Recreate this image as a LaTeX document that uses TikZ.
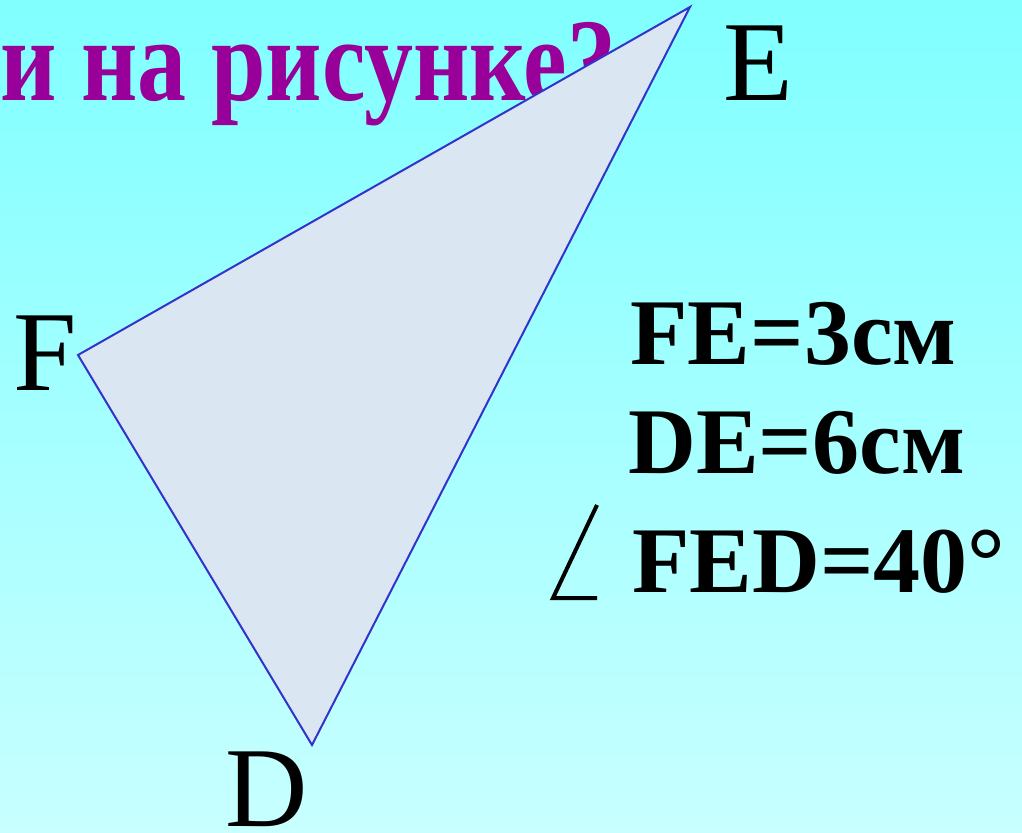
\documentclass[tikz,border=0pt]{standalone}
\usepackage{fontspec}
\setmainfont{Liberation Serif}
\usetikzlibrary{positioning}
\definecolor{bgtop}{RGB}{128,255,255}
\definecolor{bgbot}{RGB}{200,255,255}
\definecolor{titlepurple}{RGB}{153,0,153}
\definecolor{edgeblue}{RGB}{51,51,204}
\definecolor{trifill}{RGB}{218,230,242}

\begin{document}
\begin{tikzpicture}[x=0.5pt,y=-0.5pt,
        vertex/.style={font=\fontsize{57}{57}\selectfont, inner sep=0pt, anchor=base west},
        fact/.style={font=\fontsize{47}{47}\selectfont\bfseries, inner sep=0pt, anchor=base west}]
        \useasboundingbox (0,0) rectangle (1022,832);
        \shade[top color=bgtop, bottom color=bgbot] (0,0) rectangle (1022,832);

        % заголовок (верхняя строка обрезана)
        \node[font=\fontsize{59}{59}\selectfont\bfseries, text=titlepurple,
              inner sep=0pt, anchor=base west] (title) at (0,100)
              {\scalebox{0.83}[1]{и на рисунке?}};

        \coordinate (E) at (690,7);
        \coordinate (F) at (78,355);
        \coordinate (D) at (312,745);

        \filldraw[fill=trifill, draw=edgeblue, line width=1pt] (E) -- (F) -- (D) -- cycle;

        \node[vertex] (lE) at (723,100) {E};
        \node[vertex] (lF) at (13,390) {F};
        \node[vertex] (lD) at (225,826) {D};

        \node[fact] (fe) at (630,364) {FE=3см};
        \node[fact] (de) at (628,473) {DE=6см};
        \node[fact] (fed) at (632,592) {FED=40°};

        % знак угла
        \coordinate (angtop) at (597,505);
        \coordinate (angvert) at (553,598);
        \coordinate (angend) at (597,598);
        \draw[line width=2pt] (angtop) -- (angvert) -- (angend);
    \end{tikzpicture}
\end{document}
